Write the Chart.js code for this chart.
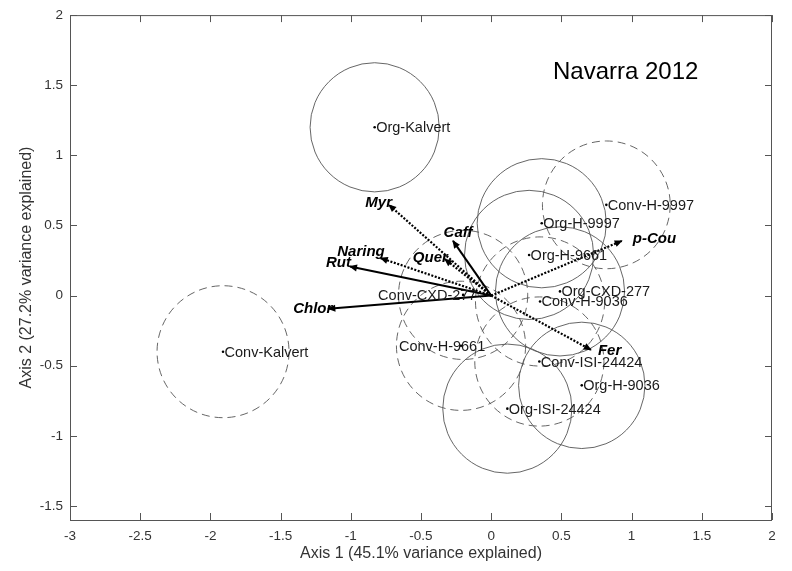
<!DOCTYPE html>
<html>
<head>
<meta charset="utf-8">
<script src="https://cdn.jsdelivr.net/npm/chart.js@4.4.1/dist/chart.umd.min.js"></script>
<style>
  html, body { margin: 0; padding: 0; background: #fff; }
</style>
</head>
<body>
<canvas id="navarraBiplot" width="792" height="571"></canvas>
<script>
// Sample scores on axis 1 / axis 2, with the radius of each circle (axis units)
const sampleNames = ['Org-Kalvert', 'Org-H-9997', 'Org-H-9661', 'Org-CXD-277', 'Org-H-9036', 'Org-ISI-24424',
  'Conv-Kalvert', 'Conv-H-9997', 'Conv-CXD-277', 'Conv-H-9036', 'Conv-H-9661', 'Conv-ISI-24424'];
const sampleX = [-0.83, 0.36, 0.27, 0.49, 0.645, 0.115, -1.91, 0.82, -0.20, 0.348, -0.215, 0.343];
const sampleY = [1.20, 0.516, 0.29, 0.03, -0.64, -0.806, -0.40, 0.647, 0.005, -0.042, -0.358, -0.47];
const sampleRadius = [0.46, 0.46, 0.46, 0.46, 0.45, 0.46, 0.47, 0.455, 0.46, 0.46, 0.46, 0.46];

// Phenolic compound loadings (arrow tips, arrows start at 0,0)
const phenolNames = ['p-Cou', 'Fer', 'Caff', 'Quer', 'Myr', 'Naring', 'Rut', 'Chlor'];
const phenolX = [0.93, 0.71, -0.272, -0.33, -0.728, -0.787, -1.006, -1.16];
const phenolY = [0.39, -0.386, 0.39, 0.26, 0.647, 0.267, 0.207, -0.094];

// Tick labels
const xTicks = [-3, -2.5, -2, -1.5, -1, -0.5, 0, 0.5, 1, 1.5, 2];
const yTicks = [-1.5, -1, -0.5, 0, 0.5, 1, 1.5, 2];

// ---- styles ----
const FONT = '"Liberation Sans", Arial, sans-serif';
const isConv = sampleNames.map(n => n.startsWith('Conv'));
const labelShift = { 'Conv-CXD-277': -85, 'Conv-H-9661': -62 }; // px, labels moved left
const phenolSolid = [false, false, true, false, false, false, true, true];
// [dx, dy, align] of each arrow label relative to its tip, px
const phenolLabelStyle = [
  [11, -2, 'left'], [7, 1, 'left'], [5, -8, 'center'], [3, -1, 'right'],
  [3, -2, 'right'], [4, -6, 'right'], [1, -4, 'right'], [4, 0, 'right']
];

const circlesPlugin = {
  id: 'circles',
  beforeDatasetsDraw(chart) {
    const { ctx, chartArea, scales: { x, y } } = chart;
    ctx.save();
    ctx.beginPath();
    ctx.rect(chartArea.left, chartArea.top, chartArea.width, chartArea.height);
    ctx.clip();
    ctx.strokeStyle = '#555';
    ctx.lineWidth = 0.9;
    sampleNames.forEach((n, i) => {
      const cx = x.getPixelForValue(sampleX[i]);
      const cy = y.getPixelForValue(sampleY[i]);
      const r = x.getPixelForValue(sampleX[i] + sampleRadius[i]) - cx;
      ctx.setLineDash(isConv[i] ? [8, 5] : []);
      ctx.beginPath();
      ctx.arc(cx, cy, r, 0, Math.PI * 2);
      ctx.stroke();
    });
    ctx.restore();
  }
};

const labelsPlugin = {
  id: 'labels',
  afterDatasetsDraw(chart) {
    const { ctx, scales: { x, y } } = chart;
    ctx.save();
    // arrow heads + compound labels
    phenolNames.forEach((name, i) => {
      const meta = chart.getDatasetMeta(i + 1);
      const p0 = meta.data[0], p1 = meta.data[1];
      const ang = Math.atan2(p1.y - p0.y, p1.x - p0.x);
      ctx.save();
      ctx.translate(p1.x, p1.y);
      ctx.rotate(ang);
      ctx.beginPath();
      ctx.moveTo(1, 0);
      ctx.lineTo(-7, -3.5);
      ctx.lineTo(-7, 3.5);
      ctx.closePath();
      ctx.fillStyle = '#000';
      ctx.fill();
      ctx.restore();

      const [dx, dy, align] = phenolLabelStyle[i];
      ctx.font = 'italic bold 15px ' + FONT;
      ctx.fillStyle = '#000';
      ctx.textAlign = align;
      ctx.textBaseline = 'middle';
      ctx.fillText(name, p1.x + dx, p1.y + dy);
    });

    // sample labels
    ctx.font = '14.5px ' + FONT;
    ctx.fillStyle = '#1a1a1a';
    ctx.textAlign = 'left';
    ctx.textBaseline = 'middle';
    sampleNames.forEach((n, i) => {
      const px = x.getPixelForValue(sampleX[i]);
      const py = y.getPixelForValue(sampleY[i]);
      const shift = labelShift[n] !== undefined ? labelShift[n] : 1.5;
      ctx.fillText(n, px + shift, py + 1);
    });

    // panel title
    ctx.font = '24px ' + FONT;
    ctx.fillStyle = '#000';
    ctx.fillText('Navarra 2012', x.getPixelForValue(0.44), y.getPixelForValue(1.59));
    ctx.restore();
  }
};

const boxPlugin = {
  id: 'box',
  afterDraw(chart) {
    const { ctx, chartArea: a, scales: { x, y } } = chart;
    ctx.save();
    ctx.strokeStyle = '#555';
    ctx.lineWidth = 1;
    ctx.strokeRect(a.left + 0.5, a.top + 0.5, a.width - 1, a.height);
    const tl = 7;
    ctx.beginPath();
    xTicks.forEach(v => {
      const px = Math.round(x.getPixelForValue(v)) + 0.5;
      ctx.moveTo(px, a.bottom); ctx.lineTo(px, a.bottom - tl);
      ctx.moveTo(px, a.top); ctx.lineTo(px, a.top + tl);
    });
    yTicks.forEach(v => {
      const py = Math.round(y.getPixelForValue(v)) + 0.5;
      ctx.moveTo(a.left, py); ctx.lineTo(a.left + tl, py);
      ctx.moveTo(a.right, py); ctx.lineTo(a.right - tl, py);
    });
    ctx.stroke();
    ctx.restore();
  }
};

const datasets = [{
  label: 'Samples',
  data: sampleNames.map((n, i) => ({ x: sampleX[i], y: sampleY[i] })),
  pointRadius: 1.3,
  pointBackgroundColor: '#000',
  pointBorderWidth: 0
}];
phenolNames.forEach((n, i) => {
  datasets.push({
    label: n,
    data: [{ x: 0, y: 0 }, { x: phenolX[i], y: phenolY[i] }],
    showLine: true,
    borderColor: '#000',
    borderWidth: phenolSolid[i] ? 2 : 2.2,
    borderDash: phenolSolid[i] ? [] : [2, 1.6],
    pointRadius: 0
  });
});

new Chart(document.getElementById('navarraBiplot').getContext('2d'), {
  type: 'scatter',
  data: { datasets },
  options: {
    responsive: false,
    animation: false,
    devicePixelRatio: 1,
    layout: { padding: { left: 0, right: 20, top: 15, bottom: 0 } },
    plugins: {
      legend: { display: false },
      tooltip: { enabled: false }
    },
    scales: {
      x: {
        type: 'linear',
        min: -3,
        max: 2,
        afterFit: s => { s.height = 51; },
        afterBuildTicks: s => { s.ticks = xTicks.map(v => ({ value: v })); },
        grid: { display: false, drawTicks: false },
        border: { display: false },
        ticks: {
          padding: 8,
          color: '#333',
          font: { family: FONT, size: 13.5 },
          maxRotation: 0,
          autoSkip: false,
          callback: v => String(v)
        },
        title: {
          display: true,
          text: 'Axis 1 (45.1% variance explained)',
          color: '#333',
          font: { family: FONT, size: 16 },
          padding: { top: 0, bottom: 8 }
        }
      },
      y: {
        type: 'linear',
        min: -1.6,
        max: 2,
        bounds: 'data',
        afterFit: s => { s.width = 70; },
        afterBuildTicks: s => { s.ticks = yTicks.map(v => ({ value: v })); },
        grid: { display: false, drawTicks: false },
        border: { display: false },
        ticks: {
          padding: 7,
          color: '#333',
          font: { family: FONT, size: 13.5 },
          autoSkip: false,
          callback: v => String(v)
        },
        title: {
          display: true,
          text: 'Axis 2 (27.2% variance explained)',
          color: '#333',
          font: { family: FONT, size: 16 },
          padding: { top: 17, bottom: 0 }
        }
      }
    }
  },
  plugins: [circlesPlugin, labelsPlugin, boxPlugin]
});
</script>
</body>
</html>
